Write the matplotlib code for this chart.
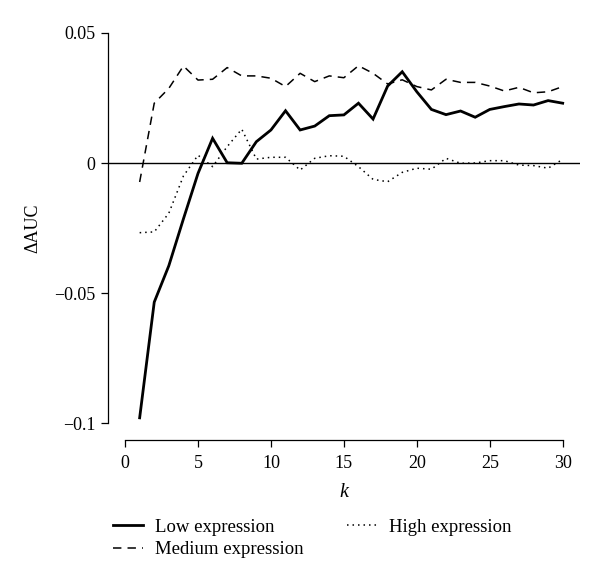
import numpy as np
import matplotlib
matplotlib.use("Agg")
import matplotlib.pyplot as plt

plt.rcParams['font.family'] = ['Liberation Serif', 'DejaVu Serif']
plt.rcParams['font.size'] = 13

k = np.arange(1, 31)

low_expr = [-0.098, -0.0535, -0.0395, -0.0215, -0.004, 0.0095, 0.0001, -0.0001, 0.0082, 0.0127,
            0.0201, 0.0127, 0.0142, 0.0182, 0.0185, 0.023, 0.0169, 0.0296, 0.0351, 0.0274,
            0.0206, 0.0186, 0.020, 0.0176, 0.0206, 0.0217, 0.0227, 0.0223, 0.024, 0.023]

medium_expr = [-0.0073, 0.023, 0.0287, 0.0373, 0.0319, 0.0322, 0.0367, 0.0335, 0.0335, 0.0326,
               0.0294, 0.0345, 0.0313, 0.0335, 0.0328, 0.0374, 0.0345, 0.0304, 0.032, 0.0294,
               0.0281, 0.0322, 0.031, 0.031, 0.0296, 0.0277, 0.0291, 0.027, 0.0274, 0.0294]

high_expr = [-0.0268, -0.0265, -0.0193, -0.005, 0.003, -0.0014, 0.0063, 0.013, 0.0015, 0.0022,
             0.0022, -0.0027, 0.0018, 0.0028, 0.0026, -0.0014, -0.0063, -0.0072, -0.0036, -0.002,
             -0.0024, 0.0018, -0.0001, 0.0, 0.0009, 0.0009, -0.0008, -0.001, -0.002, 0.0014]

fig = plt.figure(figsize=(6.0, 5.83), dpi=100)
ax = fig.add_axes([0.18, 0.2744, 0.787, 0.669])

ax.axhline(0, color='black', lw=1.0, zorder=1)
l1, = ax.plot(k, low_expr, color='black', lw=2.0, solid_joinstyle='miter', label='Low expression')
l2, = ax.plot(k, medium_expr, color='black', lw=1.1, dashes=(5.5, 4), label='Medium expression')
l3, = ax.plot(k, high_expr, color='black', lw=1.1, dashes=(1, 2.6), label='High expression')

ax.set_xlim(-1.17, 31.2)
ax.set_ylim(-0.1, 0.05)
ax.set_xticks([0, 5, 10, 15, 20, 25, 30])
ax.set_yticks([-0.1, -0.05, 0, 0.05])
ax.set_yticklabels(['\u22120.1', '\u22120.05', '0', '0.05'])

for s in ['top', 'right']:
    ax.spines[s].set_visible(False)
ax.spines['left'].set_bounds(-0.1, 0.05)
ax.spines['bottom'].set_bounds(0, 30)
ax.spines['bottom'].set_position(('outward', 12))
for s in ['left', 'bottom']:
    ax.spines[s].set_linewidth(0.9)
ax.tick_params(axis='y', direction='out', length=5, width=0.9, pad=4)
ax.tick_params(axis='x', direction='out', length=5, width=0.9, pad=6)

ax.set_xlabel('k', style='italic', labelpad=8, fontsize=14.5)
ax.set_ylabel('\u0394AUC', labelpad=9)

fig.legend(handles=[l1, l2, l3], loc='upper left', bbox_to_anchor=(0.172, 0.126),
           ncol=2, frameon=False, borderpad=0, handlelength=1.6, handletextpad=0.65,
           columnspacing=2.3, labelspacing=0.28, fontsize=13.5)

fig.savefig('out.png', dpi=100)
